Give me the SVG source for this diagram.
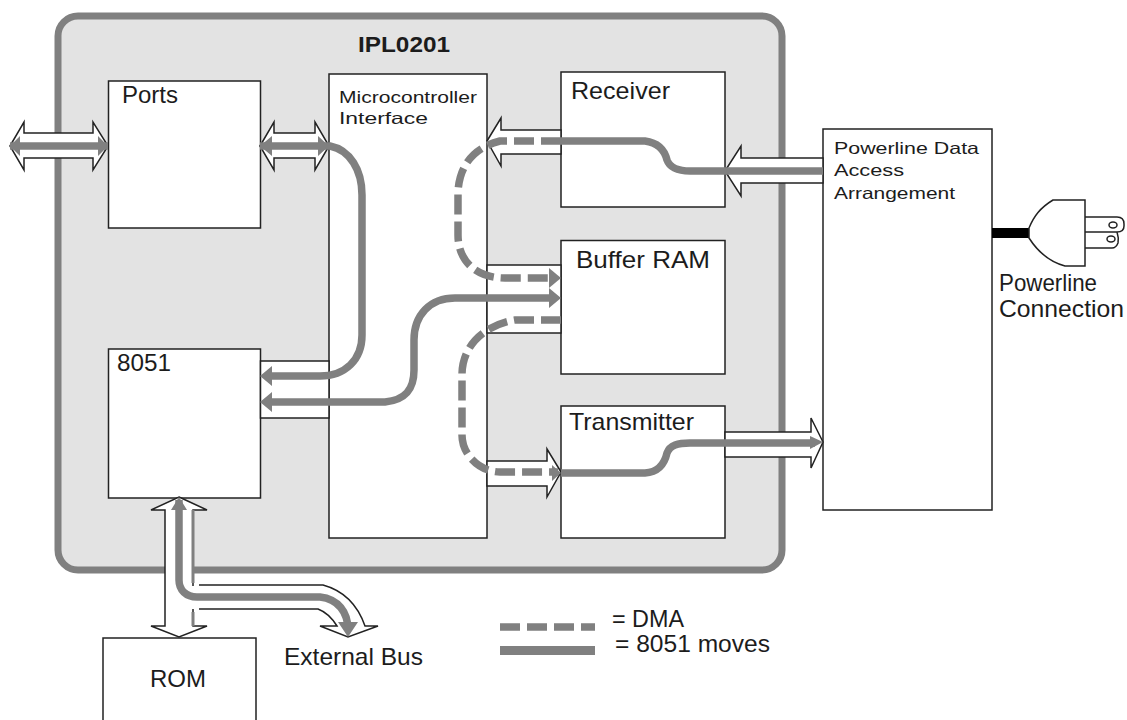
<svg xmlns="http://www.w3.org/2000/svg" width="1127" height="720" viewBox="0 0 1127 720">
<style>
.box{fill:#fff;stroke:#222;stroke-width:1.5}
.ln{fill:none;stroke:#222;stroke-width:1.5}
.arr{fill:#fff;stroke:#222;stroke-width:1.5;stroke-linejoin:miter}
.g{fill:none;stroke:#808080;stroke-width:7.500}
.d{fill:none;stroke:#808080;stroke-width:7.500;stroke-dasharray:20 7}
.gf{fill:#808080}
text{font-family:"Liberation Sans",Arial,sans-serif;fill:#1c1c1c}
.t{font-size:24px}
.s{font-size:16.500px}
</style>
<rect id="chip" x="58" y="16" width="724" height="554" rx="20" fill="#e3e3e3" stroke="#808080" stroke-width="7"/>

<g id="node-ports"><rect class="box" x="108.500" y="81" width="152" height="147"/><text class="t" x="122" y="103" textLength="56" lengthAdjust="spacingAndGlyphs">Ports</text></g>
<g id="node-8051"><rect class="box" x="108.500" y="349" width="152" height="149"/><text class="t" x="117" y="371" textLength="54" lengthAdjust="spacingAndGlyphs">8051</text></g>
<g id="node-micro"><rect class="box" x="329" y="74" width="158" height="464"/><text class="s" x="339" y="103" textLength="138" lengthAdjust="spacingAndGlyphs">Microcontroller</text><text class="s" x="339" y="124" textLength="89" lengthAdjust="spacingAndGlyphs">Interface</text></g>
<g id="node-receiver"><rect class="box" x="561" y="72" width="164" height="135"/><text class="t" x="571" y="99" textLength="99" lengthAdjust="spacingAndGlyphs">Receiver</text></g>
<g id="node-buffer"><rect class="box" x="561" y="240.500" width="164" height="133.500"/><text class="t" x="576" y="268" textLength="134" lengthAdjust="spacingAndGlyphs">Buffer RAM</text></g>
<g id="node-transmitter"><rect class="box" x="561" y="406" width="164" height="132"/><text class="t" x="569" y="430" textLength="125" lengthAdjust="spacingAndGlyphs">Transmitter</text></g>
<g id="node-pdaa"><rect class="box" x="823" y="129" width="169" height="381"/><text class="s" x="834" y="154" textLength="145" lengthAdjust="spacingAndGlyphs">Powerline Data</text><text class="s" x="834" y="176" textLength="70" lengthAdjust="spacingAndGlyphs">Access</text><text class="s" x="834" y="199" textLength="121" lengthAdjust="spacingAndGlyphs">Arrangement</text></g>
<g id="node-rom"><path class="box" d="M103 722V638H256V722"/><text class="t" x="150" y="687" textLength="56" lengthAdjust="spacingAndGlyphs">ROM</text></g>
<g id="node-plug">
<path d="M992 228H1029V238H992Z" fill="#000"/>
<path d="M1029 228C1034 216 1040 208 1053 200H1085V266H1065C1050 262 1038 252 1029 238Z" fill="#fff" stroke="#222" stroke-width="1.5"/>
<path class="ln" d="M1085 217H1117Q1124 217 1124 224V226Q1124 232 1117 232H1085M1117 232Q1119 238 1118 243Q1116 248 1112 248H1085"/>
<ellipse class="ln" cx="1113" cy="225" rx="4" ry="3"/>
<ellipse class="ln" cx="1111" cy="239" rx="4" ry="3"/>
<text class="t" x="999" y="291" textLength="98" lengthAdjust="spacingAndGlyphs">Powerline</text><text class="t" x="999" y="317" textLength="125" lengthAdjust="spacingAndGlyphs">Connection</text>
</g>
<text id="title" x="358" y="52" font-size="22" font-weight="bold" textLength="92" lengthAdjust="spacingAndGlyphs">IPL0201</text>

<g id="connectors">
<rect class="box" x="260.500" y="361" width="68.500" height="57"/>
<rect class="box" x="487" y="265" width="74" height="68"/>
<path class="arr" d="M10 146L24 122V133H93V122L108 146L93 170V158H24V170Z"/>
<path class="arr" d="M260 146L274 122V133H315V122L329 146L315 170V158H274V170Z"/>
<path class="arr" d="M487 141L501 118V130H561V154H501V166Z"/>
<path class="arr" d="M725 171L741 146V158H823V183H741V196Z"/>
<path class="arr" d="M823 442L811 418V432H725V457H811V468Z"/>
<path class="arr" d="M561 472L547 449V461H487V486H547V497Z"/>
<path class="arr" d="M179 497L207 510H193V626H207L179 637L151 626H165V510H151Z"/>
<path d="M190 586H322C345 592 358 606 365 626H378L348 637L320 626H337C332 618 326 612 318 609H190Z" fill="#fff" stroke="none"/>
<path class="ln" d="M199 585H323C345 591 358 606 365 626H378L348 637L320 626H337C332 618 326 612 318 609H199"/>
<path d="M193 510V583M193 612V626" fill="none" stroke="#808080" stroke-width="3"/>

<path class="g" d="M10 146H108"/>
<path class="gf" d="M10 146L20 136V156ZM108 146L98 136V156Z"/>
<path class="g" d="M260 146H330C350 150 362 170 362 195V335C362 360 345 376 320 376H265"/>
<path class="gf" d="M260 146L272 136V156ZM329 146L318 136V156ZM260 376L272 366V386Z"/>
<path class="g" d="M265 402H385C405 400 414 390 414 370V340C414 315 430 298 455 298H552"/>
<path class="gf" d="M260 402L272 392V412ZM561 298L549 288V308Z"/>
<path class="g" d="M561 141H645C660 143 665 152 667 160C670 168 678 171 690 171H823"/>
<path class="g" d="M561 473H645C660 472 665 462 667 453C670 445 678 443 690 443H815"/>
<path class="gf" d="M823 442L810 436V449Z"/>
<path class="gf" d="M561 473L552 465V481Z"/>
<path class="d" d="M561 141H500C475 147 458 165 458 195V235C458 260 475 278 505 278H552"/>
<path class="gf" d="M561 278L549 268V288Z"/>
<path class="d" d="M561 320H515C485 325 462 345 462 375V435C462 455 480 472 500 472H558"/>
<path class="g" d="M179 500V580C179 590 186 597 197 597H320C338 599 348 612 348 630"/>
<path class="gf" d="M179 497L171 510H187ZM348 637L338 622H358Z"/>
</g>

<g id="legend">
<path class="d" d="M500 627H595" stroke-dasharray="21 6"/>
<path class="g" d="M500 650.500H595" style="stroke-width:9"/>
<text class="t" x="612" y="627" textLength="72" lengthAdjust="spacingAndGlyphs">= DMA</text>
<text class="t" x="615" y="652" textLength="155" lengthAdjust="spacingAndGlyphs">= 8051 moves</text>
</g>
<text class="t" x="284" y="665" textLength="139" lengthAdjust="spacingAndGlyphs">External Bus</text>
</svg>
